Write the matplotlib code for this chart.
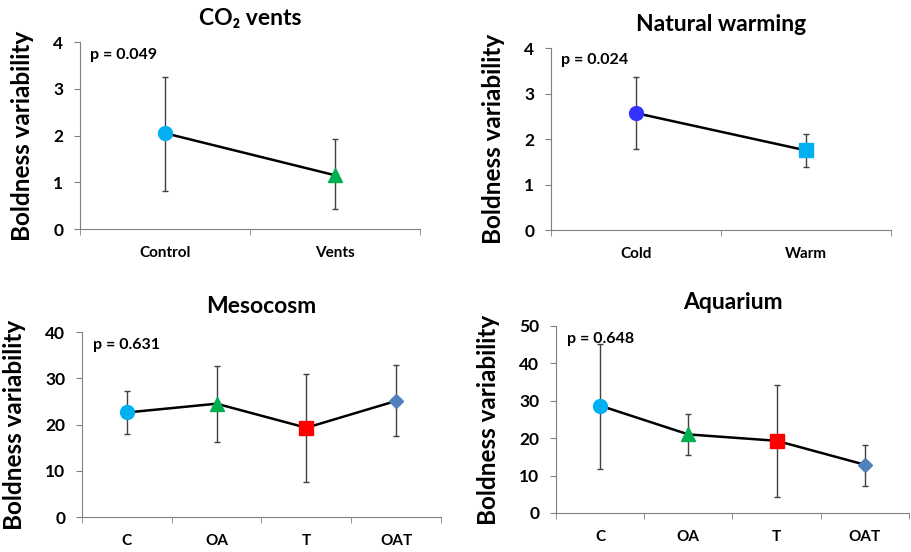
import numpy as np
import matplotlib.pyplot as plt

plt.rcParams['font.family'] = ['Lato', 'DejaVu Sans']
plt.rcParams['font.weight'] = 'bold'

# data
vents_cats = ["Control", "Vents"]
vents_mean = [2.05, 1.15]
vents_hi = [3.25, 1.93]
vents_lo = [0.82, 0.43]

warm_cats = ["Cold", "Warm"]
warm_mean = [2.57, 1.75]
warm_hi = [3.37, 2.12]
warm_lo = [1.78, 1.38]

meso_cats = ["C", "OA", "T", "OAT"]
meso_mean = [22.6, 24.5, 19.3, 25.1]
meso_hi = [27.2, 32.6, 31.0, 32.8]
meso_lo = [18.0, 16.3, 7.6, 17.5]

aqua_cats = ["C", "OA", "T", "OAT"]
aqua_mean = [28.7, 21.0, 19.3, 12.9]
aqua_hi = [45.3, 26.4, 34.3, 18.2]
aqua_lo = [11.8, 15.5, 4.3, 7.3]

fig = plt.figure(figsize=(9.11, 5.52), dpi=100)


def panel(rect, title, cats, mean, hi, lo, markers, colors, ymax, ystep, ptext, tpad):
    ax = fig.add_axes(rect)
    x = np.arange(len(cats))
    mean = np.array(mean)
    err = [mean - np.array(lo), np.array(hi) - mean]
    ax.errorbar(x, mean, yerr=err, fmt="none", ecolor="#404040",
                elinewidth=1, capsize=2.5, capthick=1, zorder=1)
    ax.plot(x, mean, color="black", lw=1.8, zorder=2)
    for xi, yi, m, c in zip(x, mean, markers, colors):
        size = 7 if m == "D" else 10
        ax.plot(xi, yi, marker=m, ms=size, color=c, mec=c, zorder=3, ls="none")
    ax.set_xlim(-0.5, len(cats) - 0.5)
    ax.set_ylim(0, ymax)
    ax.set_yticks(np.arange(0, ymax + 0.01, ystep))
    ax.set_xticks(x)
    ax.set_xticklabels(cats, fontsize=11, fontweight="bold")
    ax.set_xticks(np.arange(-0.5, len(cats), 1), minor=True)
    ax.tick_params(axis="x", which="major", length=0, pad=12)
    ax.tick_params(axis="x", which="minor", length=4, color="#808080", direction="out")
    ax.tick_params(axis="y", length=4, color="#808080", labelsize=12.5, pad=8)
    for lab in ax.get_yticklabels():
        lab.set_fontweight("bold")
    ax.spines[["top", "right"]].set_visible(False)
    ax.spines[["left", "bottom"]].set_color("#808080")
    ax.set_ylabel("Boldness variability", fontsize=17.5, fontweight="bold", labelpad=14)
    ax.set_title(title, fontsize=16.5, fontweight="bold", pad=tpad)
    ax.text(0.03, 0.97, ptext, transform=ax.transAxes, fontsize=11.5,
            fontweight="bold", va="top", ha="left")
    return ax


panel([0.0878, 0.5851, 0.3732, 0.3388], "CO₂ vents", vents_cats, vents_mean,
      vents_hi, vents_lo, ["o", "^"], ["#00B0F0", "#00B050"], 4, 1, "p = 0.049", 12)
panel([0.6048, 0.5833, 0.3732, 0.3297], "Natural warming", warm_cats, warm_mean,
      warm_hi, warm_lo, ["o", "s"], ["#3333FF", "#00B0F0"], 4, 1, "p = 0.024", 12)
panel([0.09, 0.0634, 0.394, 0.3351], "Mesocosm", meso_cats, meso_mean,
      meso_hi, meso_lo, ["o", "^", "s", "D"],
      ["#00B0F0", "#00B050", "#FF0000", "#4F81BD"], 40, 10, "p = 0.631", 14)
panel([0.6103, 0.0707, 0.3875, 0.3388], "Aquarium", aqua_cats, aqua_mean,
      aqua_hi, aqua_lo, ["o", "^", "s", "D"],
      ["#00B0F0", "#00B050", "#FF0000", "#4F81BD"], 50, 10, "p = 0.648", 12)

fig.savefig("out.png", dpi=100)
